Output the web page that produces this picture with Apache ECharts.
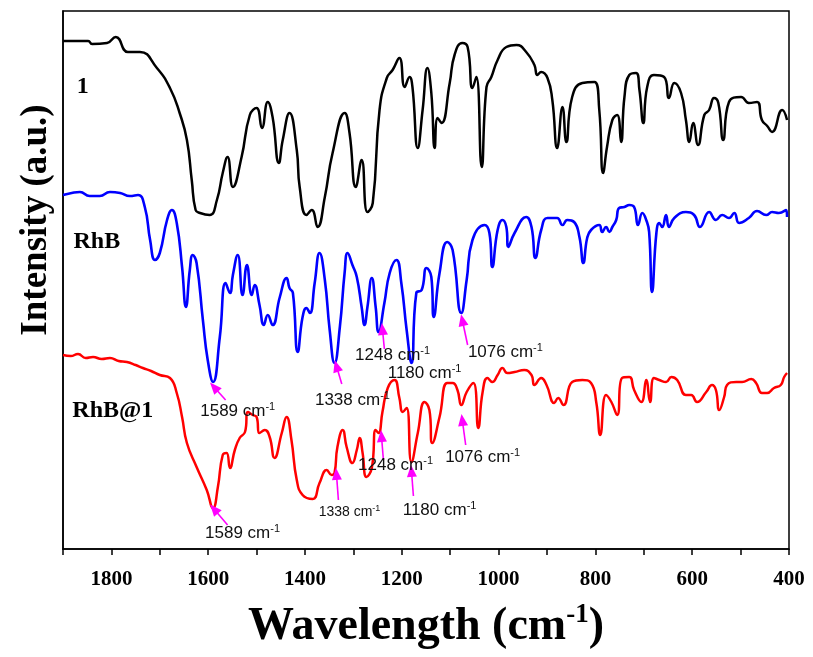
<!DOCTYPE html>
<html><head><meta charset="utf-8">
<script src="https://cdn.jsdelivr.net/npm/echarts@6/dist/echarts.min.js"></script>
<style>html,body{margin:0;padding:0;background:#fff}#c{width:813px;height:657px}</style>
</head><body><div id="c"></div>
<script>
// ---- data (wavenumber cm-1, intensity a.u. with vertical offsets as plotted) ----
var tickLabels = [1800, 1600, 1400, 1200, 1000, 800, 600, 400];
var seriesNames = ['1', 'RhB', 'RhB@1'];

var s1Wn = [1900,1848,1840,1809,1791,1766,1741,1706,1679,1659,1644,1634,1626,1617,1597,1582,1570,1560,1549,1531,1514,1500,1489,1477,1467,1454,1446,1432,1417,1411,1397,1386,1374,1359,1343,1318,1308,1295,1283,1271,1260,1246,1231,1219,1205,1194,1184,1178,1167,1157,1147,1139,1132,1126,1118,1101,1091,1075,1064,1054,1046,1035,1025,1015,1002,984,963,943,926,920,912,899,889,879,868,860,848,827,802,792,784,776,765,755,747,740,730,716,709,701,693,679,658,648,637,623,613,606,598,588,575,565,555,546,536,524,499,483,466,456,445,435,414,404];
var s1I  = [508,508,505,506,512,497,497,481,461,436,409,369,339,336,334,349,376,392,362,392,434,441,421,447,432,386,409,436,399,362,334,339,322,352,396,436,416,362,389,337,346,439,471,479,491,462,472,462,401,439,481,456,401,431,426,466,494,506,502,461,472,382,462,472,489,502,504,497,484,474,477,471,449,401,442,407,452,466,467,439,376,402,429,434,407,452,474,476,459,426,462,474,472,451,466,456,429,407,426,404,434,439,451,446,409,447,452,446,447,429,423,417,439,429];

var rhbWn = [1900,1882,1865,1845,1824,1803,1782,1762,1745,1731,1720,1710,1700,1685,1675,1665,1654,1646,1638,1632,1624,1611,1601,1590,1576,1564,1555,1549,1539,1529,1520,1510,1504,1494,1485,1477,1467,1452,1438,1432,1425,1415,1405,1397,1390,1380,1370,1359,1349,1339,1328,1318,1312,1302,1293,1283,1277,1271,1262,1254,1248,1236,1225,1211,1201,1190,1180,1170,1159,1149,1139,1134,1122,1106,1095,1077,1066,1054,1029,1019,1013,1002,992,984,980,967,943,932,924,912,899,879,868,858,844,833,825,817,809,792,786,778,771,765,757,751,740,730,720,712,703,695,689,683,674,668,662,654,648,637,613,596,584,565,551,538,524,513,503,483,466,447,435,421,406,404];
var rhbI  = [354,356,357,353,353,357,356,353,354,342,309,289,296,329,339,326,282,242,279,294,286,229,189,167,212,266,256,274,294,254,284,254,264,244,224,234,224,252,271,261,256,197,232,241,236,266,296,269,219,186,222,277,296,284,272,242,224,242,271,242,217,246,276,289,266,219,186,256,259,281,272,232,276,307,299,236,269,309,324,316,282,319,329,322,302,316,332,322,291,319,331,331,324,329,327,312,286,311,319,324,317,322,317,322,329,341,342,344,342,324,336,329,317,257,316,326,322,334,322,331,337,334,322,337,329,334,331,336,326,331,338,334,337,336,339,332];

var rhb1Wn = [1900,1884,1869,1853,1838,1820,1803,1785,1768,1750,1735,1718,1700,1679,1665,1654,1644,1624,1603,1590,1580,1570,1562,1555,1545,1535,1524,1518,1508,1500,1494,1483,1473,1463,1448,1438,1428,1417,1405,1384,1370,1355,1345,1339,1333,1322,1314,1302,1293,1287,1281,1273,1262,1254,1248,1240,1229,1215,1205,1198,1190,1180,1167,1153,1143,1137,1122,1106,1095,1085,1077,1066,1052,1042,1033,1023,1013,1002,992,982,967,947,932,926,912,901,885,877,866,848,827,809,798,790,778,767,755,745,730,720,705,695,687,679,668,654,643,631,613,602,590,571,559,551,544,534,528,509,497,478,468,456,445,431,417,410,404];
var rhb1I  = [194,193,195,191,192,190,191,188,187,184,181,178,174,171,156,132,106,82,59,41,62,94,96,81,99,111,117,137,134,132,116,119,112,91,116,132,109,69,54,50,66,79,74,76,102,119,102,86,99,111,96,72,81,119,116,137,161,169,151,137,141,87,116,147,139,106,132,166,166,159,144,157,166,121,157,171,167,174,181,176,177,179,174,164,171,164,146,151,144,167,169,166,146,114,154,147,134,171,172,159,147,169,147,171,169,167,172,169,154,154,147,157,164,159,139,152,164,167,167,170,166,156,156,161,164,172,176];

// peak annotations: wavenumber text, which series
var peakTexts  = ['1589','1338','1248','1180','1076','1589','1338','1248','1180','1076'];
var peakSeries = [1,1,1,1,1,2,2,2,2,2];

// ---- layout for annotations (positions in data coordinates) ----
var peakLabelAt = [[1539,138],[1302,149],[1219,194],[1153,176],[986,197],[1529,16],[1308,37],[1213,84],[1122,39],[1033,92]];
var peakLabelSize = [17,17,17,17,17,17,14,17,17,17];
var peakArrow = [
  [[1564,149],[1588,162]], [[1324,165],[1335,183]], [[1236,200],[1240,220]], null, [[1064,204],[1075,229]],
  [[1560,24],[1588,40]], [[1331,49],[1335,75]], [[1238,89],[1242,113]], [[1176,53],[1180,78]], [[1068,104],[1075,129]]
];
var nameLabelAt = [[1859,462],[1830,307],[1797,138]];

var colors = ['#000000', '#0000ff', '#ff0000'];
var widths = [2.5, 2.6, 2.5];
function zip(a, b) { return a.map(function (v, i) { return [v, b[i]]; }); }
var dataSets = [zip(s1Wn, s1I), zip(rhbWn, rhbI), zip(rhb1Wn, rhb1I)];

var serif = 'Liberation Serif, Times New Roman, serif';
var sans = 'Liberation Sans, Arial, sans-serif';

var series = dataSets.map(function (d, si) {
  var mpData = [{
    coord: nameLabelAt[si],
    label: { show: true, position: 'inside', formatter: seriesNames[si],
      fontFamily: serif, fontWeight: 'bold', fontSize: 24, color: '#000' }
  }];
  var mlData = [];
  peakTexts.forEach(function (t, k) {
    if (peakSeries[k] !== si) return;
    var fs = peakLabelSize[k];
    mpData.push({
      coord: peakLabelAt[k],
      label: { show: true, position: 'inside',
        formatter: '{a|' + t + ' cm}{s|-1}',
        rich: {
          a: { fontFamily: sans, fontSize: fs, color: '#111', lineHeight: fs + 2 },
          s: { fontFamily: sans, fontSize: Math.round(fs * 0.62), color: '#111', verticalAlign: 'top', lineHeight: fs + 2 }
        }
      }
    });
    if (peakArrow[k]) mlData.push([{ coord: peakArrow[k][0] }, { coord: peakArrow[k][1] }]);
  });
  return {
    type: 'line', name: seriesNames[si], data: d, showSymbol: false, symbol: 'none',
    smooth: 0.5,
    lineStyle: { color: colors[si], width: widths[si], join: 'round' },
    itemStyle: { color: colors[si] },
    silent: true, z: 2 + si,
    markPoint: { symbol: 'circle', symbolSize: 0, silent: true, data: mpData, animation: false },
    markLine: {
      silent: true, animation: false, symbol: ['none', 'triangle'], symbolSize: [10, 12],
      lineStyle: { color: '#ff00ff', width: 1.6, type: 'solid' },
      itemStyle: { color: '#ff00ff' },
      label: { show: false }, emphasis: { disabled: true },
      data: mlData
    }
  };
});

var chart = echarts.init(document.getElementById('c'), null, { renderer: 'canvas' });
chart.setOption({
  animation: false,
  backgroundColor: '#fff',
  grid: { left: 63, right: 24, top: 11, bottom: 108, show: true, borderColor: '#000', borderWidth: 1.5, containLabel: false },
  xAxis: {
    type: 'value', inverse: true, min: 400, max: 1900, interval: 100,
    name: '{a|Wavelength (cm}{s|-1}{a|)}', nameLocation: 'middle', nameGap: 53,
    nameTextStyle: {
      rich: {
        a: { fontFamily: serif, fontWeight: 'bold', fontSize: 46, color: '#000', lineHeight: 50 },
        s: { fontFamily: serif, fontWeight: 'bold', fontSize: 27, color: '#000', verticalAlign: 'top', lineHeight: 50 }
      }
    },
    axisLine: { show: true, onZero: false, lineStyle: { color: '#000', width: 1.5 } },
    axisTick: { show: true, inside: false, length: 6, lineStyle: { color: '#000', width: 1.5 } },
    splitLine: { show: false },
    axisLabel: {
      margin: 20, fontFamily: serif, fontWeight: 'bold', fontSize: 21, color: '#000',
      formatter: function (v) { return tickLabels.indexOf(v) >= 0 ? String(v) : ''; }
    }
  },
  yAxis: {
    type: 'value', min: 0, max: 538,
    name: 'Intensity (a.u.)', nameLocation: 'middle', nameGap: 8,
    nameTextStyle: { fontFamily: serif, fontWeight: 'bold', fontSize: 37, color: '#000', padding: [0, 0, 0, 120] },
    axisLine: { show: true, onZero: false, lineStyle: { color: '#000', width: 1.5 } },
    axisTick: { show: false }, axisLabel: { show: false }, splitLine: { show: false }
  },
  series: series
});
</script>
</body></html>
